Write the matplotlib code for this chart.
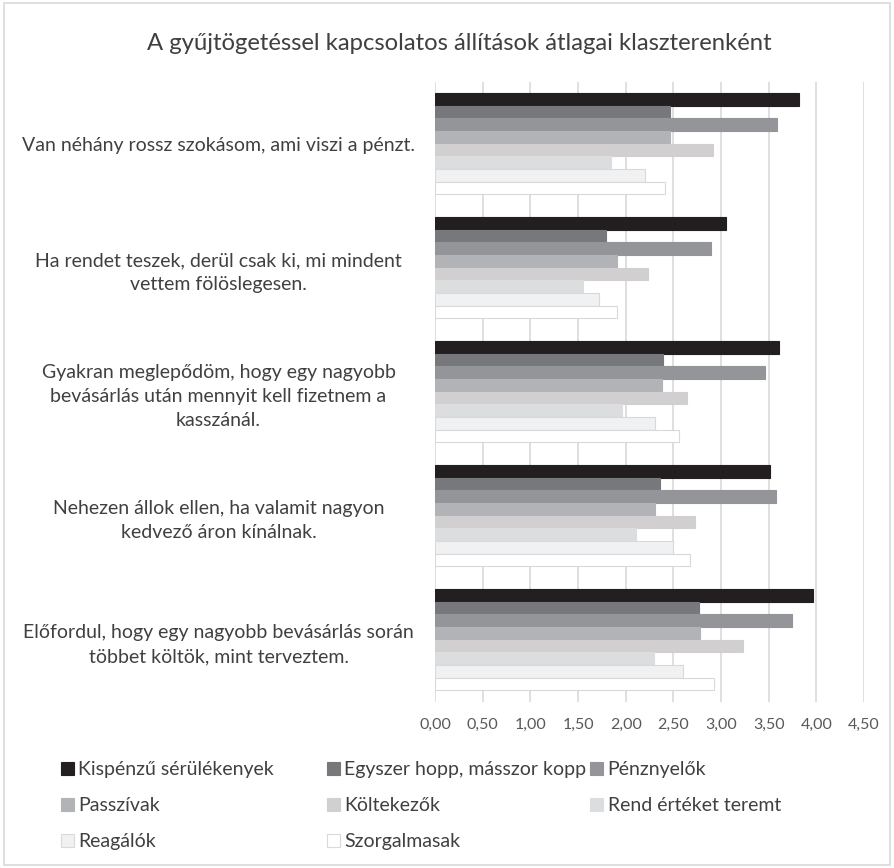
import numpy as np
import matplotlib.pyplot as plt
from matplotlib.patches import Rectangle
from matplotlib.ticker import FuncFormatter

plt.rcParams['font.family'] = ['Lato', 'DejaVu Sans']

# statements (top to bottom)
statements = [
    'Van néhány rossz szokásom, ami viszi a pénzt.',
    'Ha rendet teszek, derül csak ki, mi mindent\nvettem fölöslegesen.',
    'Gyakran meglepődöm, hogy egy nagyobb\nbevásárlás után mennyit kell fizetnem a\nkasszánál.',
    'Nehezen állok ellen, ha valamit nagyon\nkedvező áron kínálnak.',
    'Előfordul, hogy egy nagyobb bevásárlás során\ntöbbet költök, mint terveztem.',
]

clusters = ['Kispénzű sérülékenyek', 'Egyszer hopp, másszor kopp', 'Pénznyelők',
            'Passzívak', 'Költekezők', 'Rend értéket teremt', 'Reagálók', 'Szorgalmasak']

# means per cluster, in statement order
kispenzu = [3.82, 3.05, 3.61, 3.51, 3.97]
egyszer_hopp = [2.46, 1.79, 2.39, 2.36, 2.77]
penznyelok = [3.59, 2.90, 3.46, 3.58, 3.74]
passzivak = [2.46, 1.91, 2.38, 2.31, 2.78]
koltekezok = [2.92, 2.23, 2.64, 2.73, 3.23]
rend = [1.85, 1.55, 1.96, 2.11, 2.30]
reagalok = [2.20, 1.72, 2.31, 2.50, 2.60]
szorgalmasak = [2.41, 1.91, 2.56, 2.68, 2.93]

series = [kispenzu, egyszer_hopp, penznyelok, passzivak, koltekezok, rend, reagalok, szorgalmasak]
colors = ['#231f20', '#77787b', '#939598', '#b1b3b6', '#d1cfd0', '#dcdddf', '#f0f1f2', '#ffffff']
edges = ['#231f20', '#77787b', '#939598', '#b1b3b6', '#d1cfd0', '#dcdddf', '#d9d9d9', '#d9d9d9']

fig = plt.figure(figsize=(8.94, 8.68), dpi=100)
ax = fig.add_axes([435 / 894, 1 - 701.7 / 868, (864 - 435) / 894, (701.7 - 81.7) / 868])

y = np.arange(len(statements))
h = 0.815 / len(series)
handles = []
for i, (vals, c, ec) in enumerate(zip(series, colors, edges)):
    b = ax.barh(y + (i - 3.5) * h, vals, height=h, color=c, edgecolor=ec,
                linewidth=0.8, label=clusters[i], zorder=3)
    handles.append(b)

ax.set_xlim(0, 4.5)
ax.set_ylim(len(statements) - 0.5, -0.5)
ax.set_xticks(np.arange(0, 4.51, 0.5))
ax.xaxis.set_major_formatter(FuncFormatter(lambda v, p: f'{v:.2f}'.replace('.', ',')))
ax.set_yticks(y)
ax.set_yticklabels(statements, ha='center', linespacing=1.5)
ax.tick_params(axis='y', length=0, pad=0)
ax.tick_params(axis='x', length=0, pad=12, labelsize=11.5, labelcolor='#595959')
for lbl in ax.get_yticklabels():
    lbl.set_x(-(435 - 218.5) / (864 - 435))
    lbl.set_fontsize(14)
    lbl.set_color('#404040')
ax.grid(axis='x', color='#d9d9d9', linewidth=1.2, zorder=0)
for s in ax.spines.values():
    s.set_visible(False)

fig.text(459 / 894, 1 - 43 / 868, 'A gyűjtögetéssel kapcsolatos állítások átlagai klaszterenként',
         ha='center', va='center', fontsize=17.2, color='#404040')

# legend: three columns, filled row by row
col_x = [61 / 894, 327 / 894, 590 / 894]
for col in range(3):
    hs = [handles[k] for k in range(col, len(handles), 3)]
    fig.legend(handles=hs, labels=[clusters[k] for k in range(col, len(clusters), 3)],
               loc='upper left', bbox_to_anchor=(col_x[col], 1 - 761 / 868),
               frameon=False, fontsize=14, handlelength=0.65, handleheight=0.65,
               handletextpad=0.25, labelspacing=0.98, borderpad=0, borderaxespad=0,
               labelcolor='#404040')

fig.add_artist(Rectangle((4 / 894, 3 / 868), 886 / 894, 862 / 868, transform=fig.transFigure,
                         fill=False, edgecolor='#d9d9d9', linewidth=1.2))

fig.savefig('out.png', dpi=100)
